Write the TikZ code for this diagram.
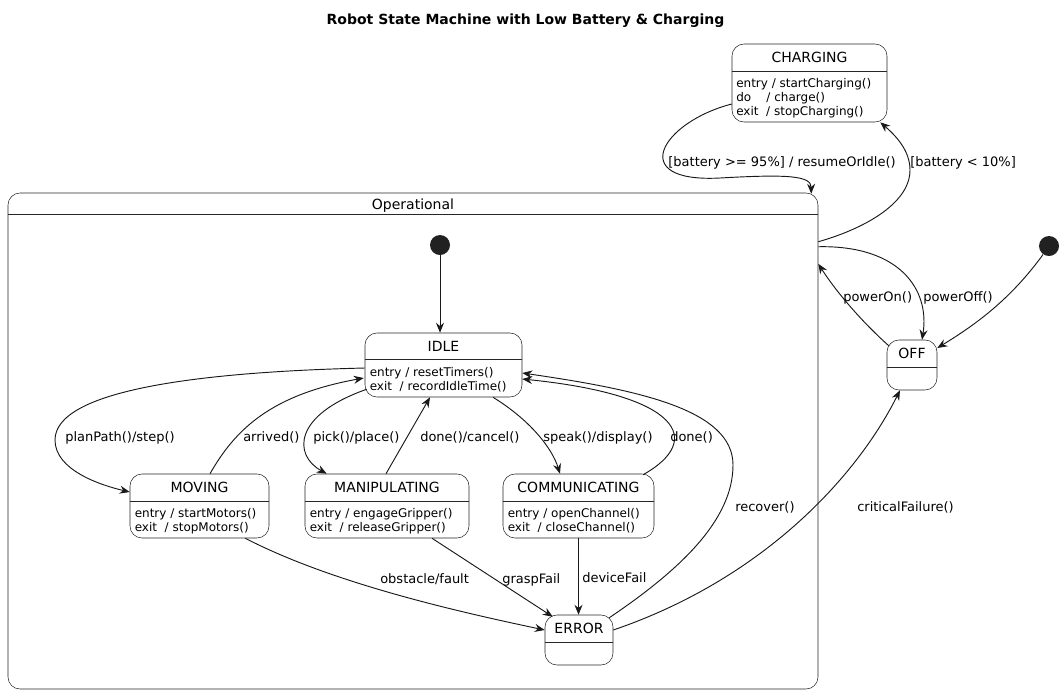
\documentclass[tikz,border=0pt]{standalone}
\usepackage{fontspec}
\setmainfont{DejaVu Sans}
\usetikzlibrary{arrows.meta,calc,fit}

\tikzset{
  umlstate/.style={draw=black!85, line width=0.4pt, rounded corners=9pt, inner sep=0pt},
  umlline/.style={draw=black!85, line width=0.4pt},
  statename/.style={font=\fontsize{10.5}{12.6}\selectfont, inner sep=0pt, anchor=base},
  statebody/.style={font=\fontsize{9}{10.5}\selectfont, align=left, anchor=north west, inner sep=0pt},
  initstate/.style={circle, fill=black!87, minimum size=15pt, inner sep=0pt},
  trans/.style={-{Stealth[length=7.5pt,width=6pt,inset=2.5pt]}, line width=0.7pt, draw=black!90},
  translbl/.style={font=\fontsize{9.75}{11.7}\selectfont, inner sep=0pt, anchor=base west},
  charttitle/.style={font=\bfseries\fontsize{10.5}{12.6}\selectfont, inner sep=0pt, anchor=base},
}

\begin{document}
\begin{tikzpicture}[x=0.75pt, y=-0.75pt]
  \useasboundingbox (0,0) rectangle (1064,694);

  % --- titulo ---
  \node[charttitle] (title) at (525.5,24) {Robot State Machine with Low Battery \& Charging};

  % --- estado composto ---
  \node[umlstate, fit={(8,193) (818,689)}] (op) {};
  \draw[umlline] (op.west |- 0,214) -- (op.east |- 0,214);
  \node[statename] (opname) at (413,209.3) {Operational};

  % --- estados ---
  \node[umlstate, fit={(732,44) (887,122)}] (charging) {};
  \draw[umlline] (charging.west |- 0,71) -- (charging.east |- 0,71);
  \node[statename] (chargingname) at (809.5,62.3) {CHARGING};
  \node[statebody] (chargingbody) at (736,78.2)
    {entry / startCharging()\\do\ \ \ \ / charge()\\exit\ \ / stopCharging()};

  \node[umlstate, fit={(365,333) (522,397)}] (idle) {};
  \draw[umlline] (idle.west |- 0,359) -- (idle.east |- 0,359);
  \node[statename] (idlename) at (443.5,351.3) {IDLE};
  \node[statebody] (idlebody) at (369.5,366.9)
    {entry / resetTimers()\\exit\ \ / recordIdleTime()};

  \node[umlstate, fit={(130,474) (269,538)}] (moving) {};
  \draw[umlline] (moving.west |- 0,501) -- (moving.east |- 0,501);
  \node[statename] (movingname) at (199.5,492.5) {MOVING};
  \node[statebody] (movingbody) at (134.5,507.9)
    {entry / startMotors()\\exit\ \ / stopMotors()};

  \node[umlstate, fit={(305,474) (469,538)}] (manip) {};
  \draw[umlline] (manip.west |- 0,501) -- (manip.east |- 0,501);
  \node[statename] (manipname) at (387,492.5) {MANIPULATING};
  \node[statebody] (manipbody) at (309.5,507.9)
    {entry / engageGripper()\\exit\ \ / releaseGripper()};

  \node[umlstate, fit={(503,474) (654,538)}] (comm) {};
  \draw[umlline] (comm.west |- 0,501) -- (comm.east |- 0,501);
  \node[statename] (commname) at (578.5,492.5) {COMMUNICATING};
  \node[statebody] (commbody) at (507.5,507.9)
    {entry / openChannel()\\exit\ \ / closeChannel()};

  \node[umlstate, fit={(545,615) (613,665)}] (error) {};
  \draw[umlline] (error.west |- 0,642) -- (error.east |- 0,642);
  \node[statename] (errorname) at (579,633.3) {ERROR};

  \node[umlstate, fit={(887,340) (937,390)}] (off) {};
  \draw[umlline] (off.west |- 0,367) -- (off.east |- 0,367);
  \node[statename] (offname) at (912,358.3) {OFF};

  % --- estados iniciais ---
  \node[initstate] (init) at (440,245) {};
  \node[initstate] (initoff) at (1049,246) {};

  % --- transicoes internas ---
  \draw[trans] (init) -- (init |- idle.north);
  \draw[trans] ($(idle.west)+(0,3)$) .. controls (200,372) and (55,390) .. (55,440)
    .. controls (55,470) and (100,485) .. ($(moving.west)+(0,-14)$);
  \draw[trans] ($(moving.north)+(10.5,0)$) .. controls (235,430) and (270,395) .. ($(idle.west)+(-1,13)$);
  \draw[trans] ($(idle.south west)+(2,-8)$) .. controls (293,415) and (293,455) .. ($(manip.north west)+(22,0)$);
  \draw[trans] ($(manip.north)+(-1,0)$) -- ($(idle.south)+(-13.5,0)$);
  \draw[trans] ($(idle.south)+(49.5,0)$) .. controls (530,420) and (552,448) .. ($(comm.north)+(-18.5,0)$);
  \draw[trans] ($(comm.north)+(64.5,1)$) .. controls (705,440) and (680,395) .. ($(idle.east)+(0,14)$);
  \draw[trans] ($(error.north east)+(-4,3)$) .. controls (680,570) and (733,520) .. (733,465)
    .. controls (733,410) and (640,390) .. ($(idle.east)+(0,8)$);
  \draw[trans] ($(moving.south east)+(-24,0)$) .. controls (330,582) and (450,610) .. ($(error.west)+(0,-10)$);
  \draw[trans] ($(manip.south)+(45,0)$) -- ($(error.north west)+(8,2)$);
  \draw[trans] (comm.south) -- (comm.south |- error.north);

  % --- transicoes externas ---
  \draw[trans] ($(error.east)+(0,-10)$) .. controls (760,580) and (855,480) .. ($(off.south)+(-12,0)$);
  \draw[trans] ($(op.north east)+(0,49)$) .. controls (860,230) and (910,205) .. (910,170)
    .. controls (910,150) and (895,135) .. ($(charging.south east)+(-7,0)$);
  \draw[trans] ($(charging.west)+(0,21)$) .. controls (662,122) and (625,183) .. (720,178)
    .. controls (790,174) and (811,176) .. ($(op.north east)+(-7,1)$);
  \draw[trans] ($(op.north east)+(0,54)$) .. controls (900,245) and (930,290) .. ($(off.north)+(10,0)$);
  \draw[trans] ($(off.north west)+(2,6)$) .. controls (860,320) and (835,290) .. ($(op.north east)+(0,71)$);
  \draw[trans] (initoff.235) .. controls (1010,300) and (975,325) .. ($(off.east)+(0,-17)$);

  % --- rotulos ---
  \node[translbl] (lplan) at (65,441.7) {planPath()/step()};
  \node[translbl] (larrived) at (243,441.7) {arrived()};
  \node[translbl] (lpick) at (313,441.7) {pick()/place()};
  \node[translbl] (ldonecancel) at (420,441.7) {done()/cancel()};
  \node[translbl] (lspeak) at (543,441.7) {speak()/display()};
  \node[translbl] (ldone) at (670,441.7) {done()};
  \node[translbl] (lrecover) at (735,511) {recover()};
  \node[translbl] (lcritical) at (857,511) {criticalFailure()};
  \node[translbl] (lobstacle) at (380,583) {obstacle/fault};
  \node[translbl] (lgrasp) at (502,583) {graspFail};
  \node[translbl] (ldevice) at (582,582) {deviceFail};
  \node[translbl, anchor=base east] (lresume) at (896,166) {[battery >= 95\%] / resumeOrIdle()};
  \node[translbl] (llow) at (910,166) {[battery < 10\%]};
  \node[translbl] (lpoweron) at (843,301) {powerOn()};
  \node[translbl] (lpoweroff) at (923,301) {powerOff()};
\end{tikzpicture}
\end{document}
